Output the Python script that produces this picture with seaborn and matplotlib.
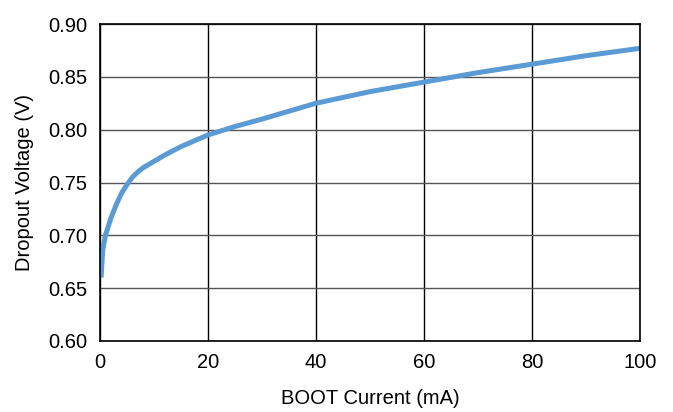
import matplotlib
matplotlib.use("Agg")
import matplotlib.pyplot as plt
import seaborn as sns
import pandas as pd

# BOOT dropout voltage vs. BOOT current
boot_current_ma = [0.2, 0.5, 1, 2, 3, 4, 5, 6, 7, 8, 10, 12, 15, 20, 25, 30, 40, 50, 60, 70, 80, 90, 100]
dropout_v = [0.660, 0.686, 0.700, 0.716, 0.729, 0.740, 0.748, 0.755, 0.760, 0.764, 0.770, 0.776,
             0.784, 0.795, 0.803, 0.810, 0.825, 0.836, 0.845, 0.854, 0.862, 0.870, 0.877]
x_ticks = [0, 20, 40, 60, 80, 100]
y_ticks = [0.60, 0.65, 0.70, 0.75, 0.80, 0.85, 0.90]

sns.set_theme(style="white")
plt.rcParams["font.family"] = ["Liberation Sans", "DejaVu Sans"]

df = pd.DataFrame({"current": boot_current_ma, "dropout": dropout_v})

fig = plt.figure(figsize=(6.73, 4.12), dpi=100)
ax = fig.add_axes([100 / 673, 71 / 412, 540 / 673, 317 / 412])

sns.lineplot(data=df, x="current", y="dropout", ax=ax, color="#5B9BD5",
             linewidth=3.6, solid_capstyle="butt")

ax.set_xlim(0, 100)
ax.set_ylim(0.60, 0.90)
ax.set_xticks(x_ticks)
ax.set_yticks(y_ticks)
ax.set_yticklabels([f"{v:.2f}" for v in y_ticks])
ax.xaxis.grid(True, color="black", linewidth=1.0)
ax.yaxis.grid(True, color="#555555", linewidth=1.0)
ax.set_axisbelow(True)
for s in ax.spines.values():
    s.set_color("black")
    s.set_linewidth(1.2)

ax.tick_params(axis="both", labelsize=14.5, colors="black", length=0, pad=9)
ax.set_xlabel("BOOT Current (mA)", fontsize=14.5, color="black", labelpad=12)
ax.set_ylabel("Dropout Voltage (V)", fontsize=14.5, color="black", labelpad=10)

fig.savefig("out.png", dpi=100)
